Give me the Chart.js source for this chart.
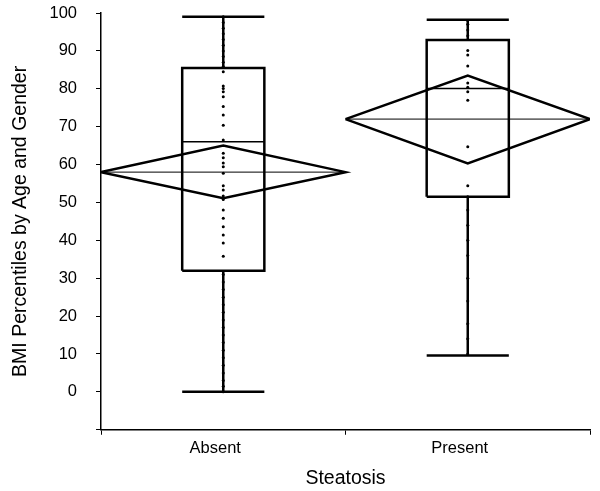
<!DOCTYPE html>
<html>
<head>
<meta charset="utf-8">
<script src="https://cdn.jsdelivr.net/npm/chart.js@4/dist/chart.umd.min.js"></script>
<style>
  html, body { margin: 0; padding: 0; background: #fff; }
  #wrap { width: 600px; height: 491px; }
</style>
</head>
<body>
<div id="wrap"><canvas id="c" width="600" height="491"></canvas></div>
<script>
// ---- data ----
const categories = ['Absent', 'Present'];
const whiskerLow  = [0.0, 9.6];
const q1          = [32.0, 51.5];
const median      = [66.0, 80.1];
const q3          = [85.5, 92.9];
const whiskerHigh = [99.0, 98.2];
const mean        = [58.0, 72.0];
const meanCiLow   = [51.1, 60.3];
const meanCiHigh  = [65.0, 83.5];
const absentPoints = [99, 97.5, 96, 94.5, 93, 91.5, 90, 88.5, 87, 85.9,
  84.5, 80.7, 80.1, 79.2, 77.9, 75.3, 73.1, 70.4, 66.5, 63.0, 61.8, 60.4, 59.4,
  57.7, 54.4, 53.3, 51.7, 50.8, 48.0, 45.8, 43.6, 41.4, 39.3, 35.8,
  31, 29, 27, 25, 23, 21, 19, 17, 15, 13, 11, 9, 7, 5, 3, 1.5, 0];
const presentPoints = [98, 97, 95.5, 94, 90.1, 88.9, 86.0, 81.5, 80.4, 79.2, 77.0,
  64.7, 54.4, 51.5, 48, 44, 40, 36, 30, 24, 18, 14, 10];
const pointSets = [absentPoints, presentPoints];
const yMin = -10, yMax = 100, yStep = 10;

// ---- styles ----
const BOX_HALF = 0.168;   // half box width in category units
const INK = '#000';
const FONT = "'Liberation Sans', Arial, sans-serif";

function lineDs(points, width) {
  return {
    type: 'line', xAxisID: 'x2', yAxisID: 'y',
    data: points, borderColor: INK, borderWidth: width,
    pointRadius: 0, fill: false, tension: 0,
    borderJoinStyle: 'miter', borderCapStyle: 'butt'
  };
}

const datasets = [];
categories.forEach((cat, i) => {
  const c = i + 0.5;
  const l = c - BOX_HALF, r = c + BOX_HALF;
  datasets.push(lineDs([{x:l,y:q1[i]},{x:r,y:q1[i]},{x:r,y:q3[i]},{x:l,y:q3[i]},{x:l,y:q1[i]}], 2.5));
  datasets.push(lineDs([{x:l,y:median[i]},{x:r,y:median[i]}], 1.5));
  datasets.push(lineDs([{x:c,y:q3[i]},{x:c,y:whiskerHigh[i]}], 2.5));
  datasets.push(lineDs([{x:c,y:q1[i]},{x:c,y:whiskerLow[i]}], 2.5));
  datasets.push(lineDs([{x:l,y:whiskerHigh[i]},{x:r,y:whiskerHigh[i]}], 2.5));
  datasets.push(lineDs([{x:l,y:whiskerLow[i]},{x:r,y:whiskerLow[i]}], 2.5));
  datasets.push(lineDs([{x:i,y:mean[i]},{x:c,y:meanCiHigh[i]},{x:i+1,y:mean[i]},{x:c,y:meanCiLow[i]},{x:i,y:mean[i]}], 2.5));
  datasets.push(lineDs([{x:i,y:mean[i]},{x:i+1,y:mean[i]}], 1));
  datasets.push({
    type: 'scatter', xAxisID: 'x2', yAxisID: 'y',
    data: pointSets[i].map(v => ({x: c, y: v})),
    pointRadius: 1.5, pointBorderWidth: 0, backgroundColor: INK, borderColor: INK
  });
});

new Chart(document.getElementById('c'), {
  type: 'scatter',
  data: { labels: categories, datasets },
  options: {
    responsive: false,
    animation: false,
    events: [],
    layout: { autoPadding: false, padding: { left: 11, right: 10, top: 13, bottom: 2 } },
    plugins: { legend: { display: false }, tooltip: { enabled: false } },
    scales: {
      x: {
        type: 'category', labels: categories, position: 'bottom', offset: true,
        grid: { offset: true, drawOnChartArea: false, drawTicks: true, tickLength: 5, color: INK, tickWidth: 1 },
        border: { color: INK, width: 1.5 },
        ticks: { color: INK, font: { family: FONT, size: 16.5 }, padding: 4, labelOffset: -8 },
        title: { display: true, text: 'Steatosis', color: INK, font: { family: FONT, size: 19.5, lineHeight: 1.1 }, padding: { top: 5, bottom: 0 } },
        afterFit: s => { s.paddingLeft = 0; s.paddingRight = 0; }
      },
      x2: { type: 'linear', min: 0, max: 2, display: false },
      y: {
        type: 'linear', min: yMin, max: yMax,
        grid: { drawOnChartArea: false, drawTicks: true, tickLength: 5, color: INK, tickWidth: 1 },
        border: { color: INK, width: 1.5 },
        ticks: { stepSize: yStep, color: INK, font: { family: FONT, size: 16.5 }, padding: 19,
                 callback: v => (v < 0 ? '' : v) },
        title: { display: true, text: 'BMI Percentiles by Age and Gender', color: INK,
                 font: { family: FONT, size: 19.5, lineHeight: 1.0 }, padding: { top: 0, bottom: 0 } },
        afterFit: s => { s.paddingTop = 0; s.paddingBottom = 0; }
      }
    }
  }
});
</script>
</body>
</html>
